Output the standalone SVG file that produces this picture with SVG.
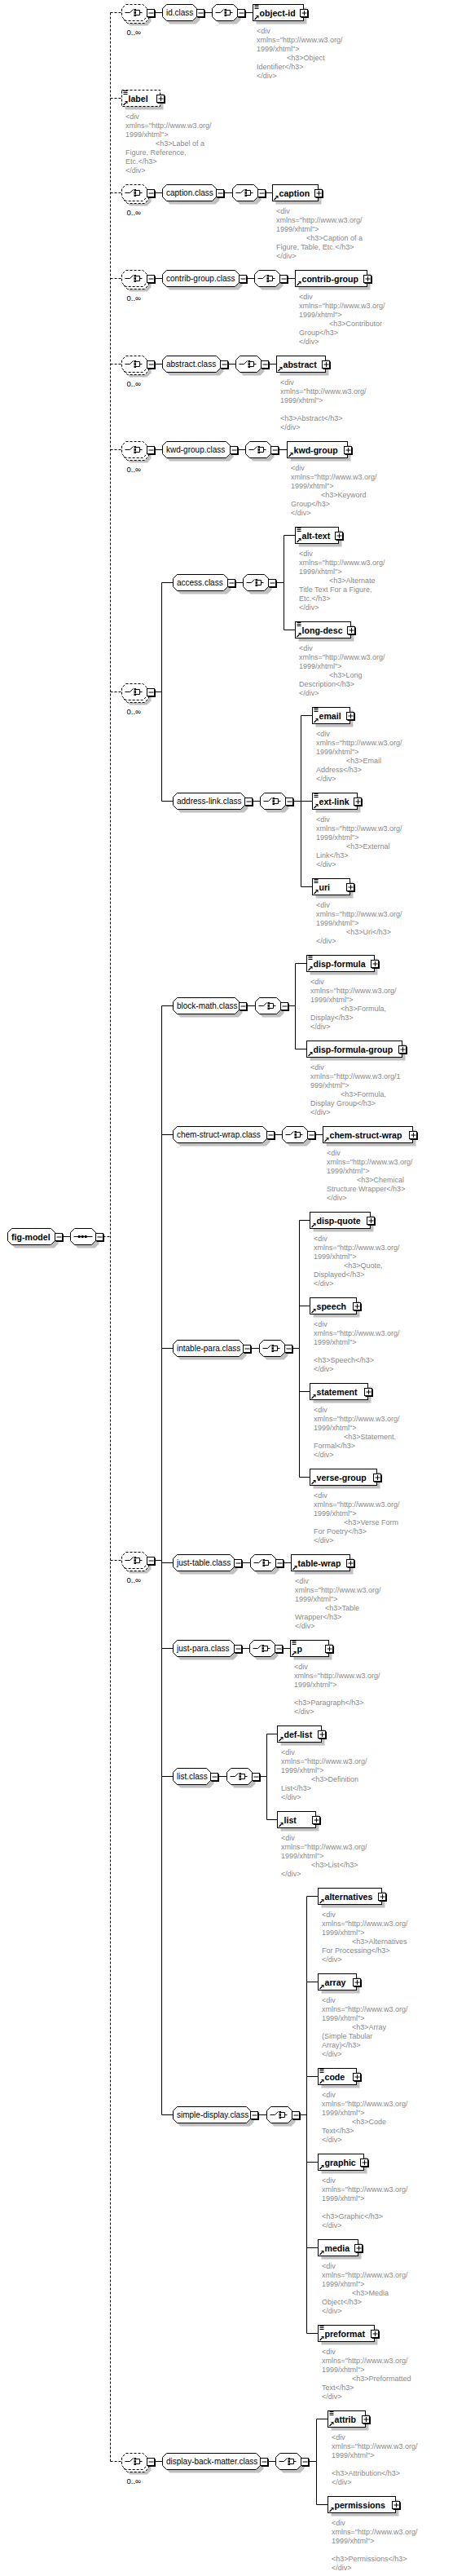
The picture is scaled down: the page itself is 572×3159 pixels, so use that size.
<svg xmlns="http://www.w3.org/2000/svg" xmlns:xlink="http://www.w3.org/1999/xlink" width="572" height="3159" viewBox="0 0 572 3159">
<style>
.c{fill:none;stroke:#000;stroke-width:1}
.d{fill:none;stroke:#000;stroke-width:1;stroke-dasharray:3 2}
.sh{fill:#c0c0c0}
.o{fill:#fff;stroke:#000;stroke-width:1}
.od{fill:#fff;stroke:#000;stroke-width:1;stroke-dasharray:3 2}
.t{font-family:"Liberation Sans",Arial,sans-serif;font-size:10px;fill:#000}
.b{font-family:"Liberation Sans",Arial,sans-serif;font-size:10.6px;font-weight:bold;fill:#000}
.a{font-family:"Liberation Sans",Arial,sans-serif;font-size:9px;fill:#8a8a8a}
.m{font-family:"Liberation Sans",Arial,sans-serif;font-size:9.5px;fill:#000}
</style>
<defs>
<g id="ci"><path d="M4 0H10L14 -4M17.5 -3H22V3H17.5M22 0H25" fill="none" stroke="#000"/><rect x="15" y="-4.5" width="2.5" height="2.5"/><rect x="15" y="-1.25" width="2.5" height="2.5"/><rect x="15" y="2" width="2.5" height="2.5"/></g>
<g id="ch"><path class="sh" d="M9 -6H30L35 -1V9L30 14H9L4 9V-1Z"/><path class="o" d="M5 -10H26L31 -5V5L26 10H5L0 5V-5Z"/><use href="#ci"/></g>
<g id="chd"><path class="sh" d="M10 -4H31L36 1V11L31 16H10L5 11V1Z"/><path class="od" d="M7 -7H28L33 -2V8L28 13H7L2 8V-2Z"/><path class="od" d="M5 -10H26L31 -5V5L26 10H5L0 5V-5Z"/><use href="#ci"/></g>
<g id="sq"><path class="sh" d="M9 -6H30L35 -1V9L30 14H9L4 9V-1Z"/><path class="o" d="M5 -10H26L31 -5V5L26 10H5L0 5V-5Z"/><path d="M4 0H27" stroke="#000"/><rect x="9.5" y="-1.5" width="2.5" height="3"/><rect x="13.5" y="-1.5" width="2.5" height="3"/><rect x="17.5" y="-1.5" width="2.5" height="3"/></g>
<g id="mn"><rect x="1.5" y="-3" width="9.5" height="9.5" fill="#000"/><rect x="0.5" y="-4" width="9" height="9" fill="#fff" stroke="#000"/><path d="M2.5 0.5H8.5" stroke="#000"/></g>
<g id="pl"><rect x="1.5" y="-3" width="9.5" height="9.5" fill="#000"/><rect x="0.5" y="-4" width="9" height="9" fill="#fff" stroke="#000"/><path d="M2.5 0.5H8.5M5.5 -2.5V3.5" stroke="#000"/></g>
<path id="eq" d="M2 -9H7M2 -7H7M2 -5H7" stroke="#000"/>
<g id="ar"><path d="M2 8.5L5 5.5" stroke="#000" stroke-width="1.3"/><path d="M3.5 3.5H7V7Z"/></g>
</defs>

<g id="connectors">
<path class="d" d="M135.5 15.5V3018.5M135.5 15.5H149.5M135.5 120.5H149.5M135.5 236.5H149.5M135.5 341.5H149.5M135.5 446.5H149.5M135.5 551.5H149.5M135.5 848.5H149.5M135.5 1913.5H149.5M135.5 3018.5H149.5M126.5 1516.5H135.5"/>
<path class="c" d="M76.5 1516.5H86.5
M189.5 15.5H199.5M250.5 15.5H260.5M300.5 15.5H310.5
M189.5 236.5H199.5M274.5 236.5H285.5M325.5 236.5H334.5
M189.5 341.5H199.5M302.5 341.5H312.5M352.5 341.5H362.5
M189.5 446.5H199.5M279.5 446.5H289.5M329.5 446.5H339.5
M189.5 551.5H199.5M291.5 551.5H301.5M341.5 551.5H352.5
M189.5 848.5H198.5M198.5 714.5V982.5M198.5 714.5H212.5M198.5 982.5H212.5
M288.5 714.5H298.5M338.5 714.5H348.5M348.5 656.5V772.5M348.5 656.5H362.5M348.5 772.5H362.5
M309.5 982.5H319.5M359.5 982.5H369.5M369.5 877.5V1087.5M369.5 877.5H383.5M369.5 982.5H383.5M369.5 1087.5H383.5
M189.5 1913.5H198.5M198.5 1233.5V2593.5M198.5 1233.5H212.5M198.5 1391.5H212.5M198.5 1653.5H212.5M198.5 1916.5H212.5M198.5 2021.5H212.5M198.5 2178.5H212.5M198.5 2593.5H212.5
M302.5 1233.5H313.5M353.5 1233.5H362.5M362.5 1181.5V1286.5M362.5 1181.5H376.5M362.5 1286.5H376.5
M336.5 1391.5H346.5M386.5 1391.5H396.5
M307.5 1653.5H318.5M358.5 1653.5H367.5M367.5 1496.5V1811.5M367.5 1496.5H380.5M367.5 1601.5H380.5M367.5 1706.5H380.5M367.5 1811.5H380.5
M296.5 1916.5H307.5M347.5 1916.5H357.5
M296.5 2021.5H306.5M346.5 2021.5H356.5
M267.5 2178.5H278.5M318.5 2178.5H327.5M327.5 2126.5V2231.5M327.5 2126.5H340.5M327.5 2231.5H340.5
M316.5 2593.5H327.5M367.5 2593.5H376.5M376.5 2325.5V2861.5M376.5 2325.5H390.5M376.5 2430.5H390.5M376.5 2546.5H390.5M376.5 2651.5H390.5M376.5 2756.5H390.5M376.5 2861.5H390.5
M189.5 3018.5H199.5M328.5 3018.5H338.5M378.5 3018.5H388.5M388.5 2966.5V3071.5M388.5 2966.5H402.5M388.5 3071.5H402.5"/>
</g>

<g id="fig-model" transform="translate(9.5 1516.5)"><path class="sh" d="M9 -6H57L62 -1V9L57 14H9L4 9V-1Z"/><path class="o" d="M5 -10H53L58 -5V5L53 10H5L0 5V-5Z"/><text class="b" x="4.5" y="4">fig-model</text><use href="#mn" x="57.5"/></g>
<g id="sequence" transform="translate(86.5 1516.5)"><use href="#sq"/><use href="#mn" x="30.5"/></g>

<g id="choice-id" transform="translate(149.5 15.5)"><use href="#chd"/><use href="#mn" x="30.5"/><text class="m" x="6" y="27">0..∞</text></g>
<g id="choice-caption" transform="translate(149.5 236.5)"><use href="#chd"/><use href="#mn" x="30.5"/><text class="m" x="6" y="27">0..∞</text></g>
<g id="choice-contrib" transform="translate(149.5 341.5)"><use href="#chd"/><use href="#mn" x="30.5"/><text class="m" x="6" y="27">0..∞</text></g>
<g id="choice-abstract" transform="translate(149.5 446.5)"><use href="#chd"/><use href="#mn" x="30.5"/><text class="m" x="6" y="27">0..∞</text></g>
<g id="choice-kwd" transform="translate(149.5 551.5)"><use href="#chd"/><use href="#mn" x="30.5"/><text class="m" x="6" y="27">0..∞</text></g>
<g id="choice-access" transform="translate(149.5 848.5)"><use href="#chd"/><use href="#mn" x="30.5"/><text class="m" x="6" y="27">0..∞</text></g>
<g id="choice-display" transform="translate(149.5 1913.5)"><use href="#chd"/><use href="#mn" x="30.5"/><text class="m" x="6" y="27">0..∞</text></g>
<g id="choice-back" transform="translate(149.5 3018.5)"><use href="#chd"/><use href="#mn" x="30.5"/><text class="m" x="6" y="27">0..∞</text></g>

<g id="id-class" transform="translate(199.5 15.5)"><path class="sh" d="M9 -6H41L46 -1V9L41 14H9L4 9V-1Z"/><path class="o" d="M5 -10H37L42 -5V5L37 10H5L0 5V-5Z"/><text class="t" x="4.5" y="3.5">id.class</text><use href="#mn" x="41.5"/></g>
<g id="caption-class" transform="translate(199.5 236.5)"><path class="sh" d="M9 -6H65L70 -1V9L65 14H9L4 9V-1Z"/><path class="o" d="M5 -10H61L66 -5V5L61 10H5L0 5V-5Z"/><text class="t" x="4.5" y="3.5">caption.class</text><use href="#mn" x="65.5"/></g>
<g id="contrib-group-class" transform="translate(199.5 341.5)"><path class="sh" d="M9 -6H93L98 -1V9L93 14H9L4 9V-1Z"/><path class="o" d="M5 -10H89L94 -5V5L89 10H5L0 5V-5Z"/><text class="t" x="4.5" y="3.5">contrib-group.class</text><use href="#mn" x="93.5"/></g>
<g id="abstract-class" transform="translate(199.5 446.5)"><path class="sh" d="M9 -6H70L75 -1V9L70 14H9L4 9V-1Z"/><path class="o" d="M5 -10H66L71 -5V5L66 10H5L0 5V-5Z"/><text class="t" x="4.5" y="3.5">abstract.class</text><use href="#mn" x="70.5"/></g>
<g id="kwd-group-class" transform="translate(199.5 551.5)"><path class="sh" d="M9 -6H82L87 -1V9L82 14H9L4 9V-1Z"/><path class="o" d="M5 -10H78L83 -5V5L78 10H5L0 5V-5Z"/><text class="t" x="4.5" y="3.5">kwd-group.class</text><use href="#mn" x="82.5"/></g>
<g id="access-class" transform="translate(212.5 714.5)"><path class="sh" d="M9 -6H66L71 -1V9L66 14H9L4 9V-1Z"/><path class="o" d="M5 -10H62L67 -5V5L62 10H5L0 5V-5Z"/><text class="t" x="4.5" y="3.5">access.class</text><use href="#mn" x="66.5"/></g>
<g id="address-link-class" transform="translate(212.5 982.5)"><path class="sh" d="M9 -6H87L92 -1V9L87 14H9L4 9V-1Z"/><path class="o" d="M5 -10H83L88 -5V5L83 10H5L0 5V-5Z"/><text class="t" x="4.5" y="3.5">address-link.class</text><use href="#mn" x="87.5"/></g>
<g id="block-math-class" transform="translate(212.5 1233.5)"><path class="sh" d="M9 -6H80L85 -1V9L80 14H9L4 9V-1Z"/><path class="o" d="M5 -10H76L81 -5V5L76 10H5L0 5V-5Z"/><text class="t" x="4.5" y="3.5">block-math.class</text><use href="#mn" x="80.5"/></g>
<g id="chem-struct-wrap-class" transform="translate(212.5 1391.5)"><path class="sh" d="M9 -6H114L119 -1V9L114 14H9L4 9V-1Z"/><path class="o" d="M5 -10H110L115 -5V5L110 10H5L0 5V-5Z"/><text class="t" x="4.5" y="3.5">chem-struct-wrap.class</text><use href="#mn" x="114.5"/></g>
<g id="intable-para-class" transform="translate(212.5 1653.5)"><path class="sh" d="M9 -6H85L90 -1V9L85 14H9L4 9V-1Z"/><path class="o" d="M5 -10H81L86 -5V5L81 10H5L0 5V-5Z"/><text class="t" x="4.5" y="3.5">intable-para.class</text><use href="#mn" x="85.5"/></g>
<g id="just-table-class" transform="translate(212.5 1916.5)"><path class="sh" d="M9 -6H74L79 -1V9L74 14H9L4 9V-1Z"/><path class="o" d="M5 -10H70L75 -5V5L70 10H5L0 5V-5Z"/><text class="t" x="4.5" y="3.5">just-table.class</text><use href="#mn" x="74.5"/></g>
<g id="just-para-class" transform="translate(212.5 2021.5)"><path class="sh" d="M9 -6H74L79 -1V9L74 14H9L4 9V-1Z"/><path class="o" d="M5 -10H70L75 -5V5L70 10H5L0 5V-5Z"/><text class="t" x="4.5" y="3.5">just-para.class</text><use href="#mn" x="74.5"/></g>
<g id="list-class" transform="translate(212.5 2178.5)"><path class="sh" d="M9 -6H45L50 -1V9L45 14H9L4 9V-1Z"/><path class="o" d="M5 -10H41L46 -5V5L41 10H5L0 5V-5Z"/><text class="t" x="4.5" y="3.5">list.class</text><use href="#mn" x="45.5"/></g>
<g id="simple-display-class" transform="translate(212.5 2593.5)"><path class="sh" d="M9 -6H94L99 -1V9L94 14H9L4 9V-1Z"/><path class="o" d="M5 -10H90L95 -5V5L90 10H5L0 5V-5Z"/><text class="t" x="4.5" y="3.5">simple-display.class</text><use href="#mn" x="94.5"/></g>
<g id="display-back-matter-class" transform="translate(199.5 3018.5)"><path class="sh" d="M9 -6H119L124 -1V9L119 14H9L4 9V-1Z"/><path class="o" d="M5 -10H115L120 -5V5L115 10H5L0 5V-5Z"/><text class="t" x="4.5" y="3.5">display-back-matter.class</text><use href="#mn" x="119.5"/></g>

<g id="ch-id" transform="translate(260.5 15.5)"><use href="#ch"/><use href="#mn" x="30.5"/></g>
<g id="ch-caption" transform="translate(285.5 236.5)"><use href="#ch"/><use href="#mn" x="30.5"/></g>
<g id="ch-contrib" transform="translate(312.5 341.5)"><use href="#ch"/><use href="#mn" x="30.5"/></g>
<g id="ch-abstract" transform="translate(289.5 446.5)"><use href="#ch"/><use href="#mn" x="30.5"/></g>
<g id="ch-kwd" transform="translate(301.5 551.5)"><use href="#ch"/><use href="#mn" x="30.5"/></g>
<g id="ch-access" transform="translate(298.5 714.5)"><use href="#ch"/><use href="#mn" x="30.5"/></g>
<g id="ch-address" transform="translate(319.5 982.5)"><use href="#ch"/><use href="#mn" x="30.5"/></g>
<g id="ch-block-math" transform="translate(313.5 1233.5)"><use href="#ch"/><use href="#mn" x="30.5"/></g>
<g id="ch-chem" transform="translate(346.5 1391.5)"><use href="#ch"/><use href="#mn" x="30.5"/></g>
<g id="ch-intable" transform="translate(318.5 1653.5)"><use href="#ch"/><use href="#mn" x="30.5"/></g>
<g id="ch-just-table" transform="translate(307.5 1916.5)"><use href="#ch"/><use href="#mn" x="30.5"/></g>
<g id="ch-just-para" transform="translate(306.5 2021.5)"><use href="#ch"/><use href="#mn" x="30.5"/></g>
<g id="ch-list" transform="translate(278.5 2178.5)"><use href="#ch"/><use href="#mn" x="30.5"/></g>
<g id="ch-simple" transform="translate(327.5 2593.5)"><use href="#ch"/><use href="#mn" x="30.5"/></g>
<g id="ch-back" transform="translate(338.5 3018.5)"><use href="#ch"/><use href="#mn" x="30.5"/></g>

<g id="el-object-id" transform="translate(310.5 15.5)"><rect class="sh" x="4" y="-6" width="62" height="20"/><rect class="o" x="0" y="-10" width="62" height="20"/><use href="#eq"/><use href="#ar"/><text class="b" x="8" y="4">object-id</text><use href="#pl" x="57.5"/><text class="a"><tspan x="4.5" y="25.5">&lt;div</tspan><tspan x="4.5" y="36.5">xmlns="http://www.w3.org/</tspan><tspan x="4.5" y="47.5">1999/xhtml"&gt;</tspan><tspan x="41.5" y="58.5">&lt;h3&gt;Object</tspan><tspan x="4.5" y="69.5">Identifier&lt;/h3&gt;</tspan><tspan x="4.5" y="80.5">&lt;/div&gt;</tspan></text></g>

<g id="el-label" transform="translate(149.5 120.5)"><rect class="sh" x="4" y="-6" width="47" height="20"/><rect class="od" x="0" y="-10" width="47" height="20"/><use href="#eq"/><use href="#ar"/><text class="b" x="8" y="4">label</text><use href="#pl" x="42.5"/><text class="a"><tspan x="4.5" y="25.5">&lt;div</tspan><tspan x="4.5" y="36.5">xmlns="http://www.w3.org/</tspan><tspan x="4.5" y="47.5">1999/xhtml"&gt;</tspan><tspan x="41.5" y="58.5">&lt;h3&gt;Label of a</tspan><tspan x="4.5" y="69.5">Figure, Reference,</tspan><tspan x="4.5" y="80.5">Etc.&lt;/h3&gt;</tspan><tspan x="4.5" y="91.5">&lt;/div&gt;</tspan></text></g>

<g id="el-caption" transform="translate(334.5 236.5)"><rect class="sh" x="4" y="-6" width="56" height="20"/><rect class="o" x="0" y="-10" width="56" height="20"/><use href="#ar"/><text class="b" x="8" y="4">caption</text><use href="#pl" x="51.5"/><text class="a"><tspan x="4.5" y="25.5">&lt;div</tspan><tspan x="4.5" y="36.5">xmlns="http://www.w3.org/</tspan><tspan x="4.5" y="47.5">1999/xhtml"&gt;</tspan><tspan x="41.5" y="58.5">&lt;h3&gt;Caption of a</tspan><tspan x="4.5" y="69.5">Figure, Table, Etc.&lt;/h3&gt;</tspan><tspan x="4.5" y="80.5">&lt;/div&gt;</tspan></text></g>

<g id="el-contrib-group" transform="translate(362.5 341.5)"><rect class="sh" x="4" y="-6" width="88" height="20"/><rect class="o" x="0" y="-10" width="88" height="20"/><use href="#ar"/><text class="b" x="8" y="4">contrib-group</text><use href="#pl" x="83.5"/><text class="a"><tspan x="4.5" y="25.5">&lt;div</tspan><tspan x="4.5" y="36.5">xmlns="http://www.w3.org/</tspan><tspan x="4.5" y="47.5">1999/xhtml"&gt;</tspan><tspan x="41.5" y="58.5">&lt;h3&gt;Contributor</tspan><tspan x="4.5" y="69.5">Group&lt;/h3&gt;</tspan><tspan x="4.5" y="80.5">&lt;/div&gt;</tspan></text></g>

<g id="el-abstract" transform="translate(339.5 446.5)"><rect class="sh" x="4" y="-6" width="60" height="20"/><rect class="o" x="0" y="-10" width="60" height="20"/><use href="#ar"/><text class="b" x="8" y="4">abstract</text><use href="#pl" x="55.5"/><text class="a"><tspan x="4.5" y="25.5">&lt;div</tspan><tspan x="4.5" y="36.5">xmlns="http://www.w3.org/</tspan><tspan x="4.5" y="47.5">1999/xhtml"&gt;</tspan><tspan x="4.5" y="69.5">&lt;h3&gt;Abstract&lt;/h3&gt;</tspan><tspan x="4.5" y="80.5">&lt;/div&gt;</tspan></text></g>

<g id="el-kwd-group" transform="translate(352.5 551.5)"><rect class="sh" x="4" y="-6" width="74" height="20"/><rect class="o" x="0" y="-10" width="74" height="20"/><use href="#ar"/><text class="b" x="8" y="4">kwd-group</text><use href="#pl" x="69.5"/><text class="a"><tspan x="4.5" y="25.5">&lt;div</tspan><tspan x="4.5" y="36.5">xmlns="http://www.w3.org/</tspan><tspan x="4.5" y="47.5">1999/xhtml"&gt;</tspan><tspan x="41.5" y="58.5">&lt;h3&gt;Keyword</tspan><tspan x="4.5" y="69.5">Group&lt;/h3&gt;</tspan><tspan x="4.5" y="80.5">&lt;/div&gt;</tspan></text></g>

<g id="el-alt-text" transform="translate(362.5 656.5)"><rect class="sh" x="4" y="-6" width="53" height="20"/><rect class="o" x="0" y="-10" width="53" height="20"/><use href="#eq"/><use href="#ar"/><text class="b" x="8" y="4">alt-text</text><use href="#pl" x="48.5"/><text class="a"><tspan x="4.5" y="25.5">&lt;div</tspan><tspan x="4.5" y="36.5">xmlns="http://www.w3.org/</tspan><tspan x="4.5" y="47.5">1999/xhtml"&gt;</tspan><tspan x="41.5" y="58.5">&lt;h3&gt;Alternate</tspan><tspan x="4.5" y="69.5">Title Text For a Figure,</tspan><tspan x="4.5" y="80.5">Etc.&lt;/h3&gt;</tspan><tspan x="4.5" y="91.5">&lt;/div&gt;</tspan></text></g>

<g id="el-long-desc" transform="translate(362.5 772.5)"><rect class="sh" x="4" y="-6" width="68" height="20"/><rect class="o" x="0" y="-10" width="68" height="20"/><use href="#eq"/><use href="#ar"/><text class="b" x="8" y="4">long-desc</text><use href="#pl" x="63.5"/><text class="a"><tspan x="4.5" y="25.5">&lt;div</tspan><tspan x="4.5" y="36.5">xmlns="http://www.w3.org/</tspan><tspan x="4.5" y="47.5">1999/xhtml"&gt;</tspan><tspan x="41.5" y="58.5">&lt;h3&gt;Long</tspan><tspan x="4.5" y="69.5">Description&lt;/h3&gt;</tspan><tspan x="4.5" y="80.5">&lt;/div&gt;</tspan></text></g>

<g id="el-email" transform="translate(383.5 877.5)"><rect class="sh" x="4" y="-6" width="46" height="20"/><rect class="o" x="0" y="-10" width="46" height="20"/><use href="#eq"/><use href="#ar"/><text class="b" x="8" y="4">email</text><use href="#pl" x="41.5"/><text class="a"><tspan x="4.5" y="25.5">&lt;div</tspan><tspan x="4.5" y="36.5">xmlns="http://www.w3.org/</tspan><tspan x="4.5" y="47.5">1999/xhtml"&gt;</tspan><tspan x="41.5" y="58.5">&lt;h3&gt;Email</tspan><tspan x="4.5" y="69.5">Address&lt;/h3&gt;</tspan><tspan x="4.5" y="80.5">&lt;/div&gt;</tspan></text></g>

<g id="el-ext-link" transform="translate(383.5 982.5)"><rect class="sh" x="4" y="-6" width="55" height="20"/><rect class="o" x="0" y="-10" width="55" height="20"/><use href="#eq"/><use href="#ar"/><text class="b" x="8" y="4">ext-link</text><use href="#pl" x="50.5"/><text class="a"><tspan x="4.5" y="25.5">&lt;div</tspan><tspan x="4.5" y="36.5">xmlns="http://www.w3.org/</tspan><tspan x="4.5" y="47.5">1999/xhtml"&gt;</tspan><tspan x="41.5" y="58.5">&lt;h3&gt;External</tspan><tspan x="4.5" y="69.5">Link&lt;/h3&gt;</tspan><tspan x="4.5" y="80.5">&lt;/div&gt;</tspan></text></g>

<g id="el-uri" transform="translate(383.5 1087.5)"><rect class="sh" x="4" y="-6" width="46" height="20"/><rect class="o" x="0" y="-10" width="46" height="20"/><use href="#eq"/><use href="#ar"/><text class="b" x="8" y="4">uri</text><use href="#pl" x="41.5"/><text class="a"><tspan x="4.5" y="25.5">&lt;div</tspan><tspan x="4.5" y="36.5">xmlns="http://www.w3.org/</tspan><tspan x="4.5" y="47.5">1999/xhtml"&gt;</tspan><tspan x="41.5" y="58.5">&lt;h3&gt;Uri&lt;/h3&gt;</tspan><tspan x="4.5" y="69.5">&lt;/div&gt;</tspan></text></g>

<g id="el-disp-formula" transform="translate(376.5 1181.5)"><rect class="sh" x="4" y="-6" width="83" height="20"/><rect class="o" x="0" y="-10" width="83" height="20"/><use href="#eq"/><use href="#ar"/><text class="b" x="8" y="4">disp-formula</text><use href="#pl" x="78.5"/><text class="a"><tspan x="4.5" y="25.5">&lt;div</tspan><tspan x="4.5" y="36.5">xmlns="http://www.w3.org/</tspan><tspan x="4.5" y="47.5">1999/xhtml"&gt;</tspan><tspan x="41.5" y="58.5">&lt;h3&gt;Formula,</tspan><tspan x="4.5" y="69.5">Display&lt;/h3&gt;</tspan><tspan x="4.5" y="80.5">&lt;/div&gt;</tspan></text></g>

<g id="el-disp-formula-group" transform="translate(376.5 1286.5)"><rect class="sh" x="4" y="-6" width="117" height="20"/><rect class="o" x="0" y="-10" width="117" height="20"/><use href="#ar"/><text class="b" x="8" y="4">disp-formula-group</text><use href="#pl" x="112.5"/><text class="a"><tspan x="4.5" y="25.5">&lt;div</tspan><tspan x="4.5" y="36.5">xmlns="http://www.w3.org/1</tspan><tspan x="4.5" y="47.5">999/xhtml"&gt;</tspan><tspan x="41.5" y="58.5">&lt;h3&gt;Formula,</tspan><tspan x="4.5" y="69.5">Display Group&lt;/h3&gt;</tspan><tspan x="4.5" y="80.5">&lt;/div&gt;</tspan></text></g>

<g id="el-chem-struct-wrap" transform="translate(396.5 1391.5)"><rect class="sh" x="4" y="-6" width="110" height="20"/><rect class="o" x="0" y="-10" width="110" height="20"/><use href="#ar"/><text class="b" x="8" y="4">chem-struct-wrap</text><use href="#pl" x="105.5"/><text class="a"><tspan x="4.5" y="25.5">&lt;div</tspan><tspan x="4.5" y="36.5">xmlns="http://www.w3.org/</tspan><tspan x="4.5" y="47.5">1999/xhtml"&gt;</tspan><tspan x="41.5" y="58.5">&lt;h3&gt;Chemical</tspan><tspan x="4.5" y="69.5">Structure Wrapper&lt;/h3&gt;</tspan><tspan x="4.5" y="80.5">&lt;/div&gt;</tspan></text></g>

<g id="el-disp-quote" transform="translate(380.5 1496.5)"><rect class="sh" x="4" y="-6" width="74" height="20"/><rect class="o" x="0" y="-10" width="74" height="20"/><use href="#ar"/><text class="b" x="8" y="4">disp-quote</text><use href="#pl" x="69.5"/><text class="a"><tspan x="4.5" y="25.5">&lt;div</tspan><tspan x="4.5" y="36.5">xmlns="http://www.w3.org/</tspan><tspan x="4.5" y="47.5">1999/xhtml"&gt;</tspan><tspan x="41.5" y="58.5">&lt;h3&gt;Quote,</tspan><tspan x="4.5" y="69.5">Displayed&lt;/h3&gt;</tspan><tspan x="4.5" y="80.5">&lt;/div&gt;</tspan></text></g>

<g id="el-speech" transform="translate(380.5 1601.5)"><rect class="sh" x="4" y="-6" width="57" height="20"/><rect class="o" x="0" y="-10" width="57" height="20"/><use href="#ar"/><text class="b" x="8" y="4">speech</text><use href="#pl" x="52.5"/><text class="a"><tspan x="4.5" y="25.5">&lt;div</tspan><tspan x="4.5" y="36.5">xmlns="http://www.w3.org/</tspan><tspan x="4.5" y="47.5">1999/xhtml"&gt;</tspan><tspan x="4.5" y="69.5">&lt;h3&gt;Speech&lt;/h3&gt;</tspan><tspan x="4.5" y="80.5">&lt;/div&gt;</tspan></text></g>

<g id="el-statement" transform="translate(380.5 1706.5)"><rect class="sh" x="4" y="-6" width="71" height="20"/><rect class="o" x="0" y="-10" width="71" height="20"/><use href="#ar"/><text class="b" x="8" y="4">statement</text><use href="#pl" x="66.5"/><text class="a"><tspan x="4.5" y="25.5">&lt;div</tspan><tspan x="4.5" y="36.5">xmlns="http://www.w3.org/</tspan><tspan x="4.5" y="47.5">1999/xhtml"&gt;</tspan><tspan x="41.5" y="58.5">&lt;h3&gt;Statement,</tspan><tspan x="4.5" y="69.5">Formal&lt;/h3&gt;</tspan><tspan x="4.5" y="80.5">&lt;/div&gt;</tspan></text></g>

<g id="el-verse-group" transform="translate(380.5 1811.5)"><rect class="sh" x="4" y="-6" width="82" height="20"/><rect class="o" x="0" y="-10" width="82" height="20"/><use href="#ar"/><text class="b" x="8" y="4">verse-group</text><use href="#pl" x="77.5"/><text class="a"><tspan x="4.5" y="25.5">&lt;div</tspan><tspan x="4.5" y="36.5">xmlns="http://www.w3.org/</tspan><tspan x="4.5" y="47.5">1999/xhtml"&gt;</tspan><tspan x="41.5" y="58.5">&lt;h3&gt;Verse Form</tspan><tspan x="4.5" y="69.5">For Poetry&lt;/h3&gt;</tspan><tspan x="4.5" y="80.5">&lt;/div&gt;</tspan></text></g>

<g id="el-table-wrap" transform="translate(357.5 1916.5)"><rect class="sh" x="4" y="-6" width="72" height="20"/><rect class="o" x="0" y="-10" width="72" height="20"/><use href="#ar"/><text class="b" x="8" y="4">table-wrap</text><use href="#pl" x="67.5"/><text class="a"><tspan x="4.5" y="25.5">&lt;div</tspan><tspan x="4.5" y="36.5">xmlns="http://www.w3.org/</tspan><tspan x="4.5" y="47.5">1999/xhtml"&gt;</tspan><tspan x="41.5" y="58.5">&lt;h3&gt;Table</tspan><tspan x="4.5" y="69.5">Wrapper&lt;/h3&gt;</tspan><tspan x="4.5" y="80.5">&lt;/div&gt;</tspan></text></g>

<g id="el-p" transform="translate(356.5 2021.5)"><rect class="sh" x="4" y="-6" width="47" height="20"/><rect class="o" x="0" y="-10" width="47" height="20"/><use href="#eq"/><use href="#ar"/><text class="b" x="8" y="4">p</text><use href="#pl" x="42.5"/><text class="a"><tspan x="4.5" y="25.5">&lt;div</tspan><tspan x="4.5" y="36.5">xmlns="http://www.w3.org/</tspan><tspan x="4.5" y="47.5">1999/xhtml"&gt;</tspan><tspan x="4.5" y="69.5">&lt;h3&gt;Paragraph&lt;/h3&gt;</tspan><tspan x="4.5" y="80.5">&lt;/div&gt;</tspan></text></g>

<g id="el-def-list" transform="translate(340.5 2126.5)"><rect class="sh" x="4" y="-6" width="54" height="20"/><rect class="o" x="0" y="-10" width="54" height="20"/><use href="#ar"/><text class="b" x="8" y="4">def-list</text><use href="#pl" x="49.5"/><text class="a"><tspan x="4.5" y="25.5">&lt;div</tspan><tspan x="4.5" y="36.5">xmlns="http://www.w3.org/</tspan><tspan x="4.5" y="47.5">1999/xhtml"&gt;</tspan><tspan x="41.5" y="58.5">&lt;h3&gt;Definition</tspan><tspan x="4.5" y="69.5">List&lt;/h3&gt;</tspan><tspan x="4.5" y="80.5">&lt;/div&gt;</tspan></text></g>

<g id="el-list" transform="translate(340.5 2231.5)"><rect class="sh" x="4" y="-6" width="47" height="20"/><rect class="o" x="0" y="-10" width="47" height="20"/><use href="#ar"/><text class="b" x="8" y="4">list</text><use href="#pl" x="42.5"/><text class="a"><tspan x="4.5" y="25.5">&lt;div</tspan><tspan x="4.5" y="36.5">xmlns="http://www.w3.org/</tspan><tspan x="4.5" y="47.5">1999/xhtml"&gt;</tspan><tspan x="41.5" y="58.5">&lt;h3&gt;List&lt;/h3&gt;</tspan><tspan x="4.5" y="69.5">&lt;/div&gt;</tspan></text></g>

<g id="el-alternatives" transform="translate(390.5 2325.5)"><rect class="sh" x="4" y="-6" width="78" height="20"/><rect class="o" x="0" y="-10" width="78" height="20"/><use href="#ar"/><text class="b" x="8" y="4">alternatives</text><use href="#pl" x="73.5"/><text class="a"><tspan x="4.5" y="25.5">&lt;div</tspan><tspan x="4.5" y="36.5">xmlns="http://www.w3.org/</tspan><tspan x="4.5" y="47.5">1999/xhtml"&gt;</tspan><tspan x="41.5" y="58.5">&lt;h3&gt;Alternatives</tspan><tspan x="4.5" y="69.5">For Processing&lt;/h3&gt;</tspan><tspan x="4.5" y="80.5">&lt;/div&gt;</tspan></text></g>

<g id="el-array" transform="translate(390.5 2430.5)"><rect class="sh" x="4" y="-6" width="47" height="20"/><rect class="o" x="0" y="-10" width="47" height="20"/><use href="#ar"/><text class="b" x="8" y="4">array</text><use href="#pl" x="42.5"/><text class="a"><tspan x="4.5" y="25.5">&lt;div</tspan><tspan x="4.5" y="36.5">xmlns="http://www.w3.org/</tspan><tspan x="4.5" y="47.5">1999/xhtml"&gt;</tspan><tspan x="41.5" y="58.5">&lt;h3&gt;Array</tspan><tspan x="4.5" y="69.5">(Simple Tabular</tspan><tspan x="4.5" y="80.5">Array)&lt;/h3&gt;</tspan><tspan x="4.5" y="91.5">&lt;/div&gt;</tspan></text></g>

<g id="el-code" transform="translate(390.5 2546.5)"><rect class="sh" x="4" y="-6" width="47" height="20"/><rect class="o" x="0" y="-10" width="47" height="20"/><use href="#eq"/><use href="#ar"/><text class="b" x="8" y="4">code</text><use href="#pl" x="42.5"/><text class="a"><tspan x="4.5" y="25.5">&lt;div</tspan><tspan x="4.5" y="36.5">xmlns="http://www.w3.org/</tspan><tspan x="4.5" y="47.5">1999/xhtml"&gt;</tspan><tspan x="41.5" y="58.5">&lt;h3&gt;Code</tspan><tspan x="4.5" y="69.5">Text&lt;/h3&gt;</tspan><tspan x="4.5" y="80.5">&lt;/div&gt;</tspan></text></g>

<g id="el-graphic" transform="translate(390.5 2651.5)"><rect class="sh" x="4" y="-6" width="56" height="20"/><rect class="o" x="0" y="-10" width="56" height="20"/><use href="#ar"/><text class="b" x="8" y="4">graphic</text><use href="#pl" x="51.5"/><text class="a"><tspan x="4.5" y="25.5">&lt;div</tspan><tspan x="4.5" y="36.5">xmlns="http://www.w3.org/</tspan><tspan x="4.5" y="47.5">1999/xhtml"&gt;</tspan><tspan x="4.5" y="69.5">&lt;h3&gt;Graphic&lt;/h3&gt;</tspan><tspan x="4.5" y="80.5">&lt;/div&gt;</tspan></text></g>

<g id="el-media" transform="translate(390.5 2756.5)"><rect class="sh" x="4" y="-6" width="49" height="20"/><rect class="o" x="0" y="-10" width="49" height="20"/><use href="#ar"/><text class="b" x="8" y="4">media</text><use href="#pl" x="44.5"/><text class="a"><tspan x="4.5" y="25.5">&lt;div</tspan><tspan x="4.5" y="36.5">xmlns="http://www.w3.org/</tspan><tspan x="4.5" y="47.5">1999/xhtml"&gt;</tspan><tspan x="41.5" y="58.5">&lt;h3&gt;Media</tspan><tspan x="4.5" y="69.5">Object&lt;/h3&gt;</tspan><tspan x="4.5" y="80.5">&lt;/div&gt;</tspan></text></g>

<g id="el-preformat" transform="translate(390.5 2861.5)"><rect class="sh" x="4" y="-6" width="69" height="20"/><rect class="o" x="0" y="-10" width="69" height="20"/><use href="#eq"/><use href="#ar"/><text class="b" x="8" y="4">preformat</text><use href="#pl" x="64.5"/><text class="a"><tspan x="4.5" y="25.5">&lt;div</tspan><tspan x="4.5" y="36.5">xmlns="http://www.w3.org/</tspan><tspan x="4.5" y="47.5">1999/xhtml"&gt;</tspan><tspan x="41.5" y="58.5">&lt;h3&gt;Preformatted</tspan><tspan x="4.5" y="69.5">Text&lt;/h3&gt;</tspan><tspan x="4.5" y="80.5">&lt;/div&gt;</tspan></text></g>

<g id="el-attrib" transform="translate(402.5 2966.5)"><rect class="sh" x="4" y="-6" width="46" height="20"/><rect class="o" x="0" y="-10" width="46" height="20"/><use href="#eq"/><use href="#ar"/><text class="b" x="8" y="4">attrib</text><use href="#pl" x="41.5"/><text class="a"><tspan x="4.5" y="25.5">&lt;div</tspan><tspan x="4.5" y="36.5">xmlns="http://www.w3.org/</tspan><tspan x="4.5" y="47.5">1999/xhtml"&gt;</tspan><tspan x="4.5" y="69.5">&lt;h3&gt;Attribution&lt;/h3&gt;</tspan><tspan x="4.5" y="80.5">&lt;/div&gt;</tspan></text></g>

<g id="el-permissions" transform="translate(402.5 3071.5)"><rect class="sh" x="4" y="-6" width="83" height="20"/><rect class="o" x="0" y="-10" width="83" height="20"/><use href="#ar"/><text class="b" x="8" y="4">permissions</text><use href="#pl" x="78.5"/><text class="a"><tspan x="4.5" y="25.5">&lt;div</tspan><tspan x="4.5" y="36.5">xmlns="http://www.w3.org/</tspan><tspan x="4.5" y="47.5">1999/xhtml"&gt;</tspan><tspan x="4.5" y="69.5">&lt;h3&gt;Permissions&lt;/h3&gt;</tspan><tspan x="4.5" y="80.5">&lt;/div&gt;</tspan></text></g>
</svg>
